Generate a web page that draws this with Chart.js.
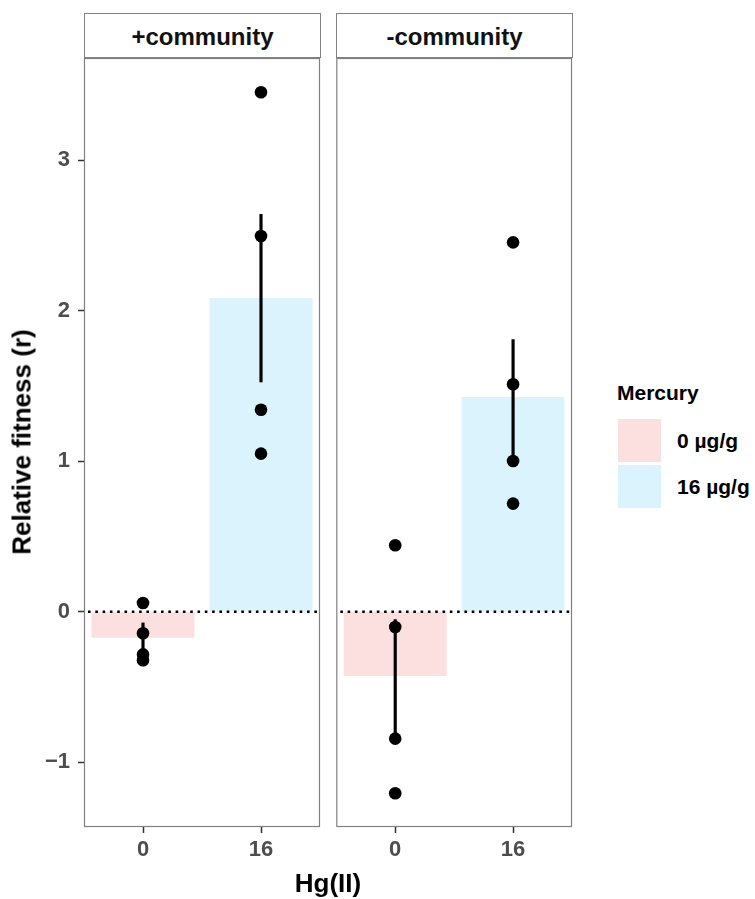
<!DOCTYPE html>
<html>
<head>
<meta charset="utf-8">
<script src="https://cdn.jsdelivr.net/npm/chart.js@4"></script>
<style>
  html, body { margin:0; padding:0; background:#fff; }
  body { width:755px; height:899px; position:relative; overflow:hidden; font-family:"Liberation Sans", Arial, sans-serif; }
  canvas { position:absolute; }
  .strip { position:absolute; top:13px; height:43px; border:1px solid #808080; box-sizing:content-box; background:#fff;
           font-weight:bold; font-size:24px; color:#111; text-align:center; line-height:46px; }
  .txt { position:absolute; font-weight:bold; color:#000; white-space:nowrap; }
  .key { position:absolute; width:43px; height:43px; }
</style>
</head>
<body>
<canvas id="c1" width="330" height="870" style="left:0;top:0;width:330px;height:870px"></canvas>
<canvas id="c2" width="250" height="870" style="left:330px;top:0;width:250px;height:870px"></canvas>
<div class="strip" id="s1" style="left:84px;width:235px"></div>
<div class="strip" id="s2" style="left:336px;width:235px"></div>
<div class="txt" id="ytitle" style="left:22px;top:442px;font-size:26px;transform:translate(-50%,-50%) rotate(-90deg);">Relative fitness (r)</div>
<div class="txt" id="xtitle" style="left:328px;top:883px;font-size:26px;transform:translate(-50%,-50%);">Hg(II)</div>
<div class="txt" id="legTitle" style="left:617px;top:393px;font-size:21px;transform:translateY(-50%);"></div>
<div class="key" id="k0" style="left:618px;top:419px;"></div>
<div class="key" id="k1" style="left:618px;top:465px;"></div>
<div class="txt" id="l0" style="left:677px;top:441px;font-size:21px;transform:translateY(-50%);"></div>
<div class="txt" id="l1" style="left:677px;top:487px;font-size:21px;transform:translateY(-50%);"></div>
<script>
// ---- data ----
const categories = ['0', '16'];
const facets = ['+community', '-community'];
const legendTitle = 'Mercury';
const legendLabels = ['0 \u00b5g/g', '16 \u00b5g/g'];
const yTicks = [-1, 0, 1, 2, 3];

const plusMeans = [-0.172, 2.085];
const plusErrLow = [-0.27, 1.527];
const plusErrHigh = [-0.074, 2.641];
const plusPoints0 = [0.058, -0.143, -0.283, -0.322];
const plusPoints16 = [3.452, 2.497, 1.343, 1.051];

const minusMeans = [-0.427, 1.427];
const minusErrLow = [-0.81, 1.027];
const minusErrHigh = [-0.052, 1.809];
const minusPoints0 = [0.442, -0.101, -0.843, -1.206];
const minusPoints16 = [2.455, 1.512, 1.002, 0.719];

// ---- styles ----
const FONT = '"Liberation Sans", Arial, sans-serif';
const PINK = 'rgb(252,224,224)';
const BLUE = 'rgb(218,243,253)';
const Y_MIN = -1.43, Y_MAX = 3.68;

document.getElementById('s1').textContent = facets[0];
document.getElementById('s2').textContent = facets[1];
document.getElementById('legTitle').textContent = legendTitle;
document.getElementById('l0').textContent = legendLabels[0];
document.getElementById('l1').textContent = legendLabels[1];
document.getElementById('k0').style.background = PINK;
document.getElementById('k1').style.background = BLUE;

const borderPlugin = {
  id: 'panelBorder',
  afterDatasetsDraw(chart) {
    const a = chart.chartArea, ctx = chart.ctx;
    ctx.save();
    ctx.strokeStyle = '#808080';
    ctx.lineWidth = 1.2;
    ctx.strokeRect(a.left + 0.5, a.top + 0.5, a.right - a.left - 1, a.bottom - a.top - 1);
    ctx.restore();
  }
};

function pointsData(p0, p16) {
  return p0.map(v => ({x: categories[0], y: v})).concat(p16.map(v => ({x: categories[1], y: v})));
}

function makeChart(id, means, lo, hi, p0, p16, showY, padding) {
  const tickFont = {family: FONT, weight: 'bold', size: 22};
  return new Chart(document.getElementById(id), {
    type: 'bar',
    data: {
      labels: categories,
      datasets: [
        {
          type: 'scatter', data: pointsData(p0, p16), xAxisID: 'x', yAxisID: 'y',
          backgroundColor: '#000', borderColor: '#000', pointRadius: 6.3, pointBorderWidth: 0, order: 0
        },
        {
          type: 'bar', data: lo.map((v, i) => [v, hi[i]]), xAxisID: 'x', yAxisID: 'y',
          backgroundColor: '#000', barThickness: 2.5, grouped: false, borderWidth: 0, order: 1
        },
        {
          type: 'line', data: [{x: 0, y: 0}, {x: 1, y: 0}], xAxisID: 'x2', yAxisID: 'y',
          borderColor: '#000', borderWidth: 2.6, borderDash: [2.6, 4.7], borderCapStyle: 'butt',
          borderDashOffset: -4, pointRadius: 0, fill: false, order: 2
        },
        {
          type: 'bar', data: means, xAxisID: 'x', yAxisID: 'y',
          backgroundColor: [PINK, BLUE], categoryPercentage: 1, barPercentage: 0.873,
          grouped: false, borderWidth: 0, order: 3
        }
      ]
    },
    options: {
      responsive: false, animation: false, devicePixelRatio: 1,
      layout: {padding: padding},
      plugins: {legend: {display: false}, tooltip: {enabled: false}},
      scales: {
        x: {
          type: 'category', labels: categories, offset: true,
          grid: {drawOnChartArea: false, drawTicks: true, tickLength: 6, tickColor: '#333', tickWidth: 1.5, offset: false},
          border: {display: false},
          ticks: {font: tickFont, color: '#4d4d4d', padding: 4, maxRotation: 0},
          afterFit: s => { s.height = 43; }
        },
        x2: {type: 'linear', display: false, min: 0, max: 1, offset: false},
        y: {
          display: showY, min: Y_MIN, max: Y_MAX,
          afterBuildTicks: s => { s.ticks = yTicks.map(v => ({value: v})); },
          grid: {drawOnChartArea: false, drawTicks: true, tickLength: 6, tickColor: '#333', tickWidth: 1.5},
          border: {display: false},
          ticks: {font: tickFont, color: '#4d4d4d', padding: 8,
                  callback: v => v < 0 ? '\u2212' + Math.abs(v) : String(v)},
          afterFit: s => { s.width = showY ? 84 : 0; }
        }
      }
    },
    plugins: [borderPlugin]
  });
}

makeChart('c1', plusMeans, plusErrLow, plusErrHigh, plusPoints0, plusPoints16, true, {top: 58, right: 10, left: 0, bottom: 0});
makeChart('c2', minusMeans, minusErrLow, minusErrHigh, minusPoints0, minusPoints16, false, {top: 58, right: 8, left: 6, bottom: 0});
</script>
</body>
</html>
